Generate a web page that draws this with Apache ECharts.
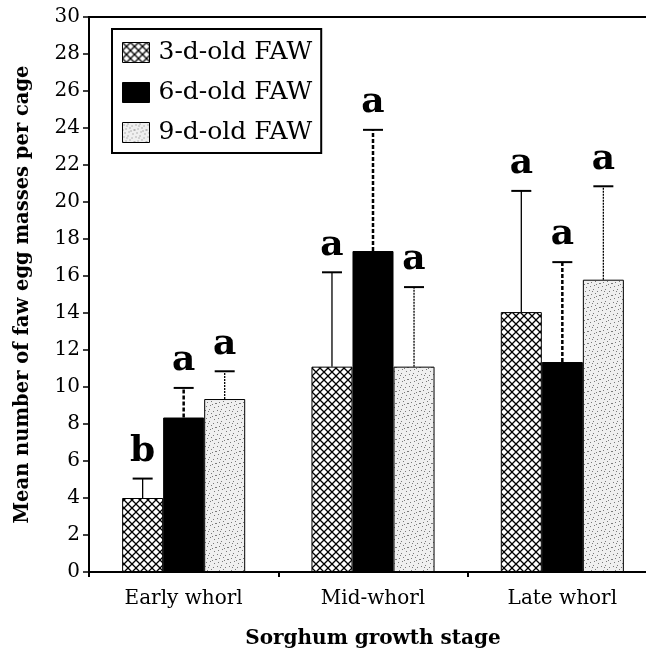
<!DOCTYPE html>
<html>
<head>
<meta charset="utf-8">
<script src="https://cdn.jsdelivr.net/npm/echarts@6/dist/echarts.min.js"></script>
<style>html,body{margin:0;padding:0;background:#fff;overflow:hidden;width:646px;height:654px}#c{width:657px;height:654px}</style>
</head>
<body>
<div id="c"></div>
<script>
var categories = ['Early whorl', 'Mid-whorl', 'Late whorl'];
var seriesNames = ['3-d-old FAW', '6-d-old FAW', '9-d-old FAW'];
var means3 = [4.0, 11.1, 14.05];
var means6 = [8.35, 17.35, 11.35];
var means9 = [9.35, 11.1, 15.8];
var err3 = [1.05, 5.1, 6.55];
var err6 = [1.6, 6.55, 5.4];
var err9 = [1.5, 4.3, 5.05];
var letters3 = ['b', 'a', 'a'];
var letters6 = ['a', 'a', 'a'];
var letters9 = ['a', 'a', 'a'];
var yTicks = [0,2,4,6,8,10,12,14,16,18,20,22,24,26,28,30];

var FONT = '"DejaVu Serif", "Liberation Serif", serif';

function hatch() {
  var c = document.createElement('canvas'); c.width = 8; c.height = 8;
  var g = c.getContext('2d');
  g.fillStyle = '#fff'; g.fillRect(0,0,8,8);
  g.strokeStyle = '#000'; g.lineWidth = 1.3;
  g.beginPath(); g.moveTo(-1,-1); g.lineTo(9,9); g.moveTo(9,-1); g.lineTo(-1,9); g.stroke();
  return c;
}
function stipple() {
  var c = document.createElement('canvas'); c.width = 12; c.height = 12;
  var g = c.getContext('2d');
  g.fillStyle = '#efefef'; g.fillRect(0,0,12,12);
  g.fillStyle = '#7a7a7a';
  var pts = [[1,2],[5,1],[9,3],[3,6],[7,5],[11,7],[2,10],[6,9],[10,11],[4,3],[8,8],[0,7]];
  pts.forEach(function(p){ g.fillRect(p[0],p[1],1,1); });
  return c;
}

var chart = echarts.init(document.getElementById('c'));
var fills = [{image: hatch(), repeat: 'repeat'}, '#000', {image: stipple(), repeat: 'repeat'}];
var means = [means3, means6, means9];
var errs = [err3, err6, err9];
var letters = [letters3, letters6, letters9];
var errStyles = [
  {lineWidth: 1.3, lineDash: null},
  {lineWidth: 2.5, lineDash: [4, 2]},
  {lineWidth: 1.3, lineDash: [2, 1]}
];
var GAP = 0.35;

var series = [];
for (var s = 0; s < 3; s++) {
  series.push({
    name: seriesNames[s], type: 'bar', data: means[s],
    barGap: '0%', barCategoryGap: '35%',
    itemStyle: {color: fills[s], borderColor: '#000', borderWidth: 1},
    z: 2
  });
}
for (var s2 = 0; s2 < 3; s2++) {
  (function(si){
    var d = categories.map(function(c, i){ return [i, means[si][i], means[si][i] + errs[si][i]]; });
    series.push({
      type: 'custom', name: 'err' + si, data: d, encode: {x: 0, y: [1, 2]}, z: 5,
      legendHoverLink: false, silent: true, clip: false,
      renderItem: function(params, api) {
        var i = api.value(0);
        var bandW = api.size([1, 0])[0];
        var bw = bandW * (1 - GAP) / 3;
        var base = api.coord([i, api.value(1)]);
        var top = api.coord([i, api.value(2)]);
        var x = base[0] + (si - 1) * bw;
        var st = errStyles[si];
        var cap = 10;
        return {type: 'group', children: [
          {type: 'line', shape: {x1: x, y1: base[1], x2: x, y2: top[1]},
           style: {stroke: '#000', lineWidth: st.lineWidth, lineDash: st.lineDash}},
          {type: 'line', shape: {x1: x - cap, y1: top[1], x2: x + cap, y2: top[1]},
           style: {stroke: '#000', lineWidth: 2}},
          {type: 'text', x: x, y: top[1] - 9,
           style: {text: letters[si][params.dataIndex], fill: '#000', font: 'bold 36px ' + FONT,
                   textAlign: 'center', textVerticalAlign: 'bottom'}}
        ]};
      }
    });
  })(s2);
}

chart.setOption({
  animation: false,
  backgroundColor: '#fff',
  grid: {left: 89, right: 0, top: 17, bottom: 82, show: true, borderColor: '#000', borderWidth: 2, backgroundColor: 'transparent'},
  legend: {
    data: seriesNames, orient: 'vertical', left: 112, top: 29,
    icon: 'rect',
    itemWidth: 27, itemHeight: 20, itemGap: 15,
    padding: [11, 9, 8, 10],
    borderColor: '#000', borderWidth: 2, backgroundColor: '#fff',
    textStyle: {fontFamily: FONT, fontSize: 25, color: '#000', lineHeight: 20, padding: [0, 0, 0, 4]},
    itemStyle: {borderColor: '#000', borderWidth: 1}
  },
  xAxis: {
    type: 'category', data: categories,
    name: 'Sorghum growth stage', nameLocation: 'middle', nameGap: 57,
    nameTextStyle: {fontFamily: FONT, fontSize: 20, fontWeight: 'bold', color: '#000'},
    axisLine: {lineStyle: {color: '#000', width: 2}},
    axisTick: {show: true, length: 5, lineStyle: {color: '#000', width: 2}},
    axisLabel: {fontFamily: FONT, fontSize: 20, color: '#000', margin: 17}
  },
  yAxis: {
    type: 'value', min: 0, max: 30, interval: 2,
    name: 'Mean number of faw egg masses per cage', nameLocation: 'middle', nameGap: 56,
    nameTextStyle: {fontFamily: FONT, fontSize: 19.5, fontWeight: 'bold', color: '#000'},
    axisLine: {show: true, lineStyle: {color: '#000', width: 2}},
    axisTick: {show: true, length: 6, lineStyle: {color: '#000', width: 1.5}},
    splitLine: {show: false},
    axisLabel: {fontFamily: FONT, fontSize: 20, color: '#000', margin: 9,
      formatter: function(v){ return yTicks.indexOf(v) >= 0 ? String(v) : ''; }}
  },
  series: series
});
</script>
</body>
</html>
